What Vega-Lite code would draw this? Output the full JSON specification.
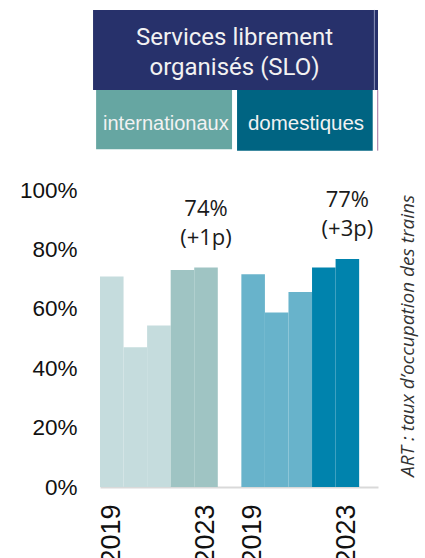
{
  "$schema": "https://vega.github.io/schema/vega-lite/v6.json",
  "width": 278,
  "height": 475,
  "autosize": {"type": "none"},
  "padding": {"left": 100, "top": 12, "right": 47, "bottom": 71},
  "background": "white",
  "config": {"view": {"stroke": null}},
  "datasets": {
    "occupation": [
      {"groupe": "internationaux", "annee": 2019, "cle": "i2019", "taux": 70.9, "serie": "internationaux 2019-2021"},
      {"groupe": "internationaux", "annee": 2020, "cle": "i2020", "taux": 47.1, "serie": "internationaux 2019-2021"},
      {"groupe": "internationaux", "annee": 2021, "cle": "i2021", "taux": 54.4, "serie": "internationaux 2019-2021"},
      {"groupe": "internationaux", "annee": 2022, "cle": "i2022", "taux": 73.1, "serie": "internationaux 2022-2023"},
      {"groupe": "internationaux", "annee": 2023, "cle": "i2023", "taux": 73.9, "serie": "internationaux 2022-2023", "etiquette": "74%", "evolution": "(+1p)"},
      {"groupe": "domestiques", "annee": 2019, "cle": "d2019", "taux": 71.7, "serie": "domestiques 2019-2021"},
      {"groupe": "domestiques", "annee": 2020, "cle": "d2020", "taux": 58.8, "serie": "domestiques 2019-2021"},
      {"groupe": "domestiques", "annee": 2021, "cle": "d2021", "taux": 65.7, "serie": "domestiques 2019-2021"},
      {"groupe": "domestiques", "annee": 2022, "cle": "d2022", "taux": 73.9, "serie": "domestiques 2022-2023"},
      {"groupe": "domestiques", "annee": 2023, "cle": "d2023", "taux": 76.8, "serie": "domestiques 2022-2023", "etiquette": "77%", "evolution": "(+3p)"}
    ]
  },
  "layer": [
    {
      "data": {"name": "occupation"},
      "layer": [
        {
          "mark": {"type": "bar"},
          "encoding": {
            "x": {
              "field": "cle", "type": "nominal",
              "scale": {
                "domain": ["i2019", "i2020", "i2021", "i2022", "i2023", "gap", "d2019", "d2020", "d2021", "d2022", "d2023"],
                "paddingInner": 0, "paddingOuter": 0.4, "align": 0
              },
              "axis": {
                "title": null, "labelAngle": -90, "labelFontSize": 27, "labelFont": "Liberation Sans",
                "labelColor": "#111111", "ticks": false, "labelPadding": 17,
                "domainColor": "#d9d9d9", "domainWidth": 2, "labelOverlap": false,
                "labelExpr": "(slice(datum.value, 1) == '2019' || slice(datum.value, 1) == '2023') ? slice(datum.value, 1) : ''"
              }
            },
            "y": {
              "field": "taux", "type": "quantitative",
              "scale": {"domain": [0, 160], "nice": false, "zero": true},
              "axis": {
                "title": null, "values": [0, 20, 40, 60, 80, 100], "labelExpr": "datum.value + '%'",
                "labelFont": "Liberation Sans", "labelFontSize": 22.5, "labelColor": "#111111",
                "labelPadding": 23, "ticks": false, "domain": false, "grid": false
              }
            },
            "color": {
              "field": "serie", "type": "nominal", "legend": null,
              "scale": {
                "domain": ["internationaux 2019-2021", "internationaux 2022-2023", "domestiques 2019-2021", "domestiques 2022-2023"],
                "range": ["#c5dcdd", "#9fc4c3", "#68b3cb", "#0083ad"]
              }
            }
          }
        },
        {
          "transform": [{"filter": "isValid(datum.etiquette)"}],
          "mark": {"type": "text", "font": "Open Sans", "fontSize": 22, "color": "#1a1a1a", "baseline": "middle", "dy": -59},
          "encoding": {
            "x": {"field": "cle", "type": "nominal"},
            "y": {"field": "taux", "type": "quantitative"},
            "text": {"field": "etiquette"}
          }
        },
        {
          "transform": [{"filter": "isValid(datum.evolution)"}],
          "mark": {"type": "text", "font": "Open Sans", "fontSize": 22, "color": "#1a1a1a", "baseline": "middle", "dy": -30},
          "encoding": {
            "x": {"field": "cle", "type": "nominal"},
            "y": {"field": "taux", "type": "quantitative"},
            "text": {"field": "evolution"}
          }
        }
      ]
    },
    {
      "layer": [
        {
          "data": {"values": [{"bloc": "SLO"}]},
          "mark": {"type": "rect", "color": "#27316b"},
          "encoding": {
            "x": {"datum": -2.5, "type": "quantitative", "scale": {"domain": [0, 100], "nice": false, "zero": false}, "axis": null},
            "x2": {"datum": 100},
            "y": {"datum": 160.7, "type": "quantitative"},
            "y2": {"datum": 133.7}
          }
        },
        {
          "data": {"values": [{"bloc": "séparateur"}]},
          "mark": {"type": "rule", "color": "#8d93ba", "strokeWidth": 1},
          "encoding": {
            "x": {"datum": 98.7, "type": "quantitative", "axis": null},
            "y": {"datum": 160.7, "type": "quantitative"},
            "y2": {"datum": 133.7}
          }
        },
        {
          "data": {"values": [{"bloc": "internationaux"}]},
          "mark": {"type": "rect", "color": "#66a6a2"},
          "encoding": {
            "x": {"datum": -1.4, "type": "quantitative", "axis": null},
            "x2": {"datum": 47.5},
            "y": {"datum": 133.7, "type": "quantitative"},
            "y2": {"datum": 113.8}
          }
        },
        {
          "data": {"values": [{"bloc": "domestiques"}]},
          "mark": {"type": "rect", "color": "#006482"},
          "encoding": {
            "x": {"datum": 49.3, "type": "quantitative", "axis": null},
            "x2": {"datum": 98.1},
            "y": {"datum": 133.7, "type": "quantitative"},
            "y2": {"datum": 113.3}
          }
        },
        {
          "data": {"values": [{"bloc": "bordure"}]},
          "mark": {"type": "rule", "color": "#a0719f", "strokeWidth": 1},
          "encoding": {
            "x": {"datum": 99.9, "type": "quantitative", "axis": null},
            "y": {"datum": 133.7, "type": "quantitative"},
            "y2": {"datum": 113.3}
          }
        },
        {
          "data": {"values": [{"titre": "Services librement\norganisés (SLO)"}]},
          "mark": {"type": "text", "font": "Roboto", "fontSize": 24, "color": "#f2f2f2", "align": "center", "baseline": "alphabetic", "lineBreak": "\n", "lineHeight": 30},
          "encoding": {
            "x": {"datum": 48.4, "type": "quantitative", "axis": null},
            "y": {"datum": 148.9, "type": "quantitative"},
            "text": {"field": "titre"}
          }
        },
        {
          "data": {"values": [{"titre": "internationaux"}]},
          "mark": {"type": "text", "font": "Liberation Sans", "fontSize": 20, "color": "#f2f2f2", "align": "center", "baseline": "alphabetic"},
          "encoding": {
            "x": {"datum": 23.7, "type": "quantitative", "axis": null},
            "y": {"datum": 120.3, "type": "quantitative"},
            "text": {"field": "titre"}
          }
        },
        {
          "data": {"values": [{"titre": "domestiques"}]},
          "mark": {"type": "text", "font": "Liberation Sans", "fontSize": 20.5, "color": "#f2f2f2", "align": "center", "baseline": "alphabetic"},
          "encoding": {
            "x": {"datum": 74.1, "type": "quantitative", "axis": null},
            "y": {"datum": 120.3, "type": "quantitative"},
            "text": {"field": "titre"}
          }
        },
        {
          "data": {"values": [{"source": "ART : taux d’occupation des trains"}]},
          "mark": {"type": "text", "font": "Open Sans", "fontStyle": "italic", "fontSize": 19, "color": "#333333", "align": "center", "baseline": "middle", "angle": 270},
          "encoding": {
            "x": {"datum": 110.8, "type": "quantitative", "axis": null},
            "y": {"datum": 50.9, "type": "quantitative"},
            "text": {"field": "source"}
          }
        }
      ]
    }
  ],
  "resolve": {"scale": {"x": "independent"}}
}
